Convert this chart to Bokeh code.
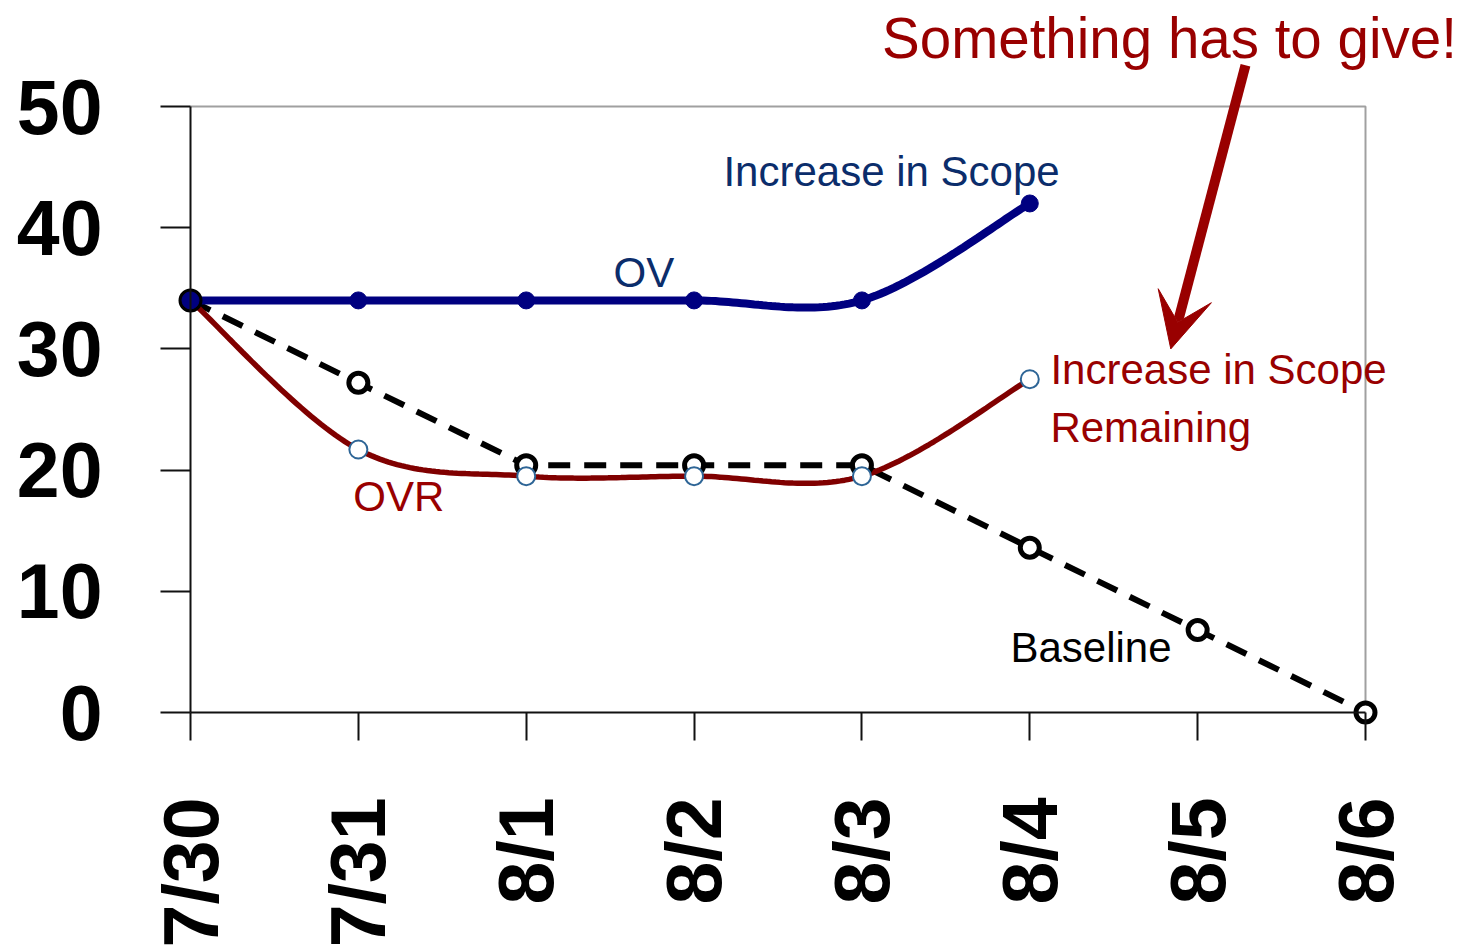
import numpy as np
from bokeh.plotting import figure
from bokeh.models import Range1d, FixedTicker, Label, Arrow, VeeHead
from bokeh.embed import file_html
from bokeh.resources import INLINE

# ---- data ----
dates = ["7/30", "7/31", "8/1", "8/2", "8/3", "8/4", "8/5", "8/6"]
ov = [34, 34, 34, 34, 34, 42]
ovr = [34, 21.7, 19.5, 19.5, 19.5, 27.5]
baseline = [34, 27.2, 20.4, 20.4, 20.4, 13.6, 6.8, 0]
y_ticks = [0, 10, 20, 30, 40, 50]
y_min, y_max = 0, 50

# ---- layout (pixels) ----
W, H = 1466, 950
FRAME_L, FRAME_R, FRAME_T, FRAME_B = 190, 1365, 106, 712

FONT = "Liberation Sans"
NAVY_LINE = "#000080"
NAVY_TEXT = "#0B2D6B"
RED_LINE = "#800000"
RED_TEXT = "#990000"


def smooth(xs, ys, n=40):
    """Catmull-Rom style smoothing (like Excel's smoothed line)."""
    pts = np.column_stack([xs, ys]).astype(float)
    ext = np.vstack([pts[0], pts, pts[-1]])
    out = []
    for i in range(len(pts) - 1):
        p0, p1, p2, p3 = ext[i], ext[i + 1], ext[i + 2], ext[i + 3]
        c1 = p1 + (p2 - p0) / 6.0
        c2 = p2 - (p3 - p1) / 6.0
        t = np.linspace(0, 1, n)[:, None]
        seg = ((1 - t) ** 3) * p1 + 3 * ((1 - t) ** 2) * t * c1 + 3 * (1 - t) * t ** 2 * c2 + t ** 3 * p2
        out.append(seg if i == 0 else seg[1:])
    arr = np.vstack(out)
    return arr[:, 0], arr[:, 1]


x_ov = list(range(len(ov)))
x_ovr = list(range(len(ovr)))
x_base = list(range(len(baseline)))
x_last = len(dates) - 1

# data ranges spanning the whole canvas so nothing is clipped
sx = (FRAME_R - FRAME_L) / x_last
sy = (FRAME_B - FRAME_T) / (y_max - y_min)
xr = Range1d(0 - FRAME_L / sx, x_last + (W - FRAME_R) / sx)
yr = Range1d(y_min - (H - FRAME_B) / sy, y_max + FRAME_T / sy)

p = figure(width=W, height=H, output_backend="svg", toolbar_location=None,
           x_range=xr, y_range=yr,
           min_border_left=0, min_border_right=0, min_border_top=0, min_border_bottom=0)
p.background_fill_color = "white"
p.border_fill_color = "white"
p.outline_line_color = None
p.xgrid.visible = False
p.ygrid.visible = False

# axes
p.xaxis.ticker = FixedTicker(ticks=x_base)
p.xaxis.major_label_overrides = {i: d for i, d in enumerate(dates)}
p.xaxis.major_label_orientation = np.pi / 2
p.xaxis.fixed_location = y_min
p.xaxis.bounds = (0, x_last)
p.yaxis.ticker = FixedTicker(ticks=y_ticks)
p.yaxis.fixed_location = 0
p.yaxis.bounds = (y_min, y_max)
for ax in (p.xaxis[0], p.yaxis[0]):
    ax.axis_line_color = "#111111"
    ax.axis_line_width = 2
    ax.major_tick_line_color = "#111111"
    ax.major_tick_line_width = 2
    ax.major_tick_in = 0
    ax.minor_tick_line_color = None
    ax.major_label_text_font = FONT
    ax.major_label_text_font_style = "bold"
    ax.major_label_text_color = "black"
p.xaxis.major_tick_out = 28
p.xaxis.major_label_standoff = 57
p.xaxis.major_label_text_font_size = "77px"
p.yaxis.major_tick_out = 30
p.yaxis.major_label_standoff = 58
p.yaxis.major_label_text_font_size = "77px"

# gray frame border (top and right)
p.line([0, x_last, x_last], [y_max, y_max, y_min], line_color="#A0A0A0", line_width=2)

# lines
p.line(x_base, baseline, line_color="black", line_width=6, line_dash="22 14")
ox, oy = smooth(x_ovr, ovr)
p.line(ox, oy, line_color=RED_LINE, line_width=5.5)
vx, vy = smooth(x_ov, ov)
p.line(vx, vy, line_color=NAVY_LINE, line_width=8)

# markers
p.scatter(x_base, baseline, size=19, fill_color="white", line_color="black", line_width=5)
p.scatter(x_ovr[1:], ovr[1:], size=18, fill_color="white", line_color="#2E6596", line_width=2)
p.scatter(x_ov, ov, size=17, fill_color=NAVY_LINE, line_color=NAVY_LINE, line_width=1)

# annotations
def lab(text, x, y, color, size):
    p.add_layout(Label(x=x, y=y, text=text, text_color=color, text_font=FONT,
                       text_font_size=size, text_baseline="middle", text_align="left"))

lab("Something has to give!", 4.12, 55.6, RED_TEXT, "56.5px")
lab("Increase in Scope", 3.175, 44.6, NAVY_TEXT, "42px")
lab("OV", 2.52, 36.3, NAVY_TEXT, "42px")
lab("OVR", 0.97, 17.8, RED_TEXT, "42px")
lab("Increase in Scope", 5.123, 28.3, RED_TEXT, "42px")
lab("Remaining", 5.123, 23.5, RED_TEXT, "42px")
lab("Baseline", 4.885, 5.35, "black", "42px")

p.add_layout(Arrow(end=VeeHead(size=55, fill_color=RED_TEXT, line_color=RED_TEXT),
                   x_start=6.285, y_start=53.4, x_end=5.84, y_end=30.0,
                   line_color=RED_TEXT, line_width=10))

open("out.html", "w").write(file_html(p, INLINE))
